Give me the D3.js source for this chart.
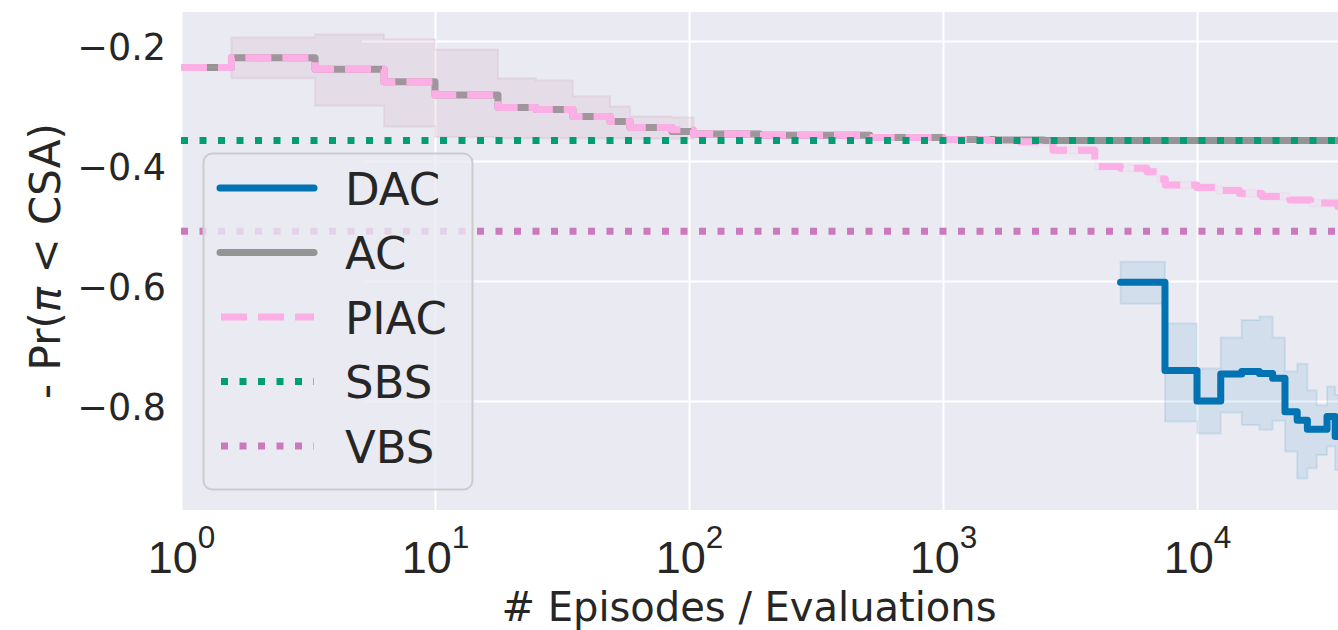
<!DOCTYPE html>
<html>
<head>
<meta charset="utf-8">
<script src="https://d3js.org/d3.v7.min.js"></script>
<style>
  body { margin: 0; background: #ffffff; }
  svg { display: block; font-family: 'DejaVu Sans', sans-serif; }
</style>
</head>
<body>
<div class="chart"></div>
<script>
// ---- data ----
var xTicks = [1, 10, 100, 1000, 10000];
var yTicks = [-0.8, -0.6, -0.4, -0.2];

// AC: step curve (steps-post) with its band
var acX    = [1, 1.58, 3.37, 6.3, 10, 17.7, 25, 34.9, 48.9, 58.6, 85.7, 104, 190, 515, 1000, 1600, 2500, 100000];
var acMean = [-0.244, -0.228, -0.247, -0.268, -0.290, -0.311, -0.314, -0.326, -0.334, -0.344, -0.351, -0.355, -0.357, -0.361, -0.364, -0.365, -0.366, -0.366];
var acHi   = [-0.244, -0.194, -0.189, -0.197, -0.214, -0.262, -0.266, -0.292, -0.309, -0.326, -0.327, -0.350, -0.352, -0.357, -0.360, -0.362, -0.363, -0.363];
var acLo   = [-0.244, -0.262, -0.308, -0.343, -0.360, -0.362, -0.362, -0.362, -0.362, -0.363, -0.363, -0.360, -0.362, -0.365, -0.368, -0.369, -0.369, -0.369];

// PIAC
var piacX    = [1, 1.58, 3.37, 6.3, 10, 17.7, 25, 34.9, 48.9, 58.6, 85.7, 104, 190, 515, 1000, 1500, 2000, 2710, 3960, 5000, 6350, 7000, 7500, 10000, 12000, 14700, 18000, 23200, 28000, 35900, 45000, 100000];
var piacMean = [-0.244, -0.228, -0.247, -0.268, -0.290, -0.311, -0.314, -0.326, -0.334, -0.344, -0.348, -0.355, -0.357, -0.361, -0.364, -0.366, -0.368, -0.382, -0.409, -0.412, -0.418, -0.430, -0.440, -0.444, -0.449, -0.454, -0.459, -0.465, -0.470, -0.476, -0.482, -0.482];
var piacHi   = [-0.244, -0.194, -0.189, -0.197, -0.214, -0.262, -0.266, -0.292, -0.309, -0.326, -0.327, -0.350, -0.352, -0.357, -0.360, -0.361, -0.362, -0.376, -0.403, -0.406, -0.412, -0.424, -0.434, -0.438, -0.443, -0.448, -0.453, -0.459, -0.464, -0.470, -0.476, -0.476];
var piacLo   = [-0.244, -0.262, -0.308, -0.343, -0.360, -0.362, -0.362, -0.362, -0.362, -0.363, -0.363, -0.360, -0.362, -0.365, -0.368, -0.371, -0.374, -0.388, -0.415, -0.418, -0.424, -0.436, -0.446, -0.450, -0.455, -0.460, -0.465, -0.471, -0.476, -0.482, -0.488, -0.488];

// DAC
var dacX    = [5000, 7480, 10000, 12400, 15000, 17600, 19850, 22200, 24800, 27200, 29600, 32500, 35000, 40000];
var dacMean = [-0.602, -0.749, -0.800, -0.755, -0.751, -0.754, -0.762, -0.818, -0.832, -0.847, -0.847, -0.826, -0.859, -0.859];
var dacHi   = [-0.568, -0.671, -0.746, -0.694, -0.665, -0.659, -0.694, -0.751, -0.738, -0.782, -0.807, -0.776, -0.790, -0.790];
var dacLo   = [-0.638, -0.834, -0.854, -0.819, -0.840, -0.848, -0.833, -0.884, -0.929, -0.912, -0.890, -0.876, -0.915, -0.915];

// constant baselines
var sbsValue = -0.366;
var vbsValue = -0.517;

var legendNames = ['DAC', 'AC', 'PIAC', 'SBS', 'VBS'];

// ---- layout ----
var width = 1338, height = 630;
var plotLeft = 181, plotTop = 12, plotBottom = 510;
var decade = 254;

var colors = {DAC: '#0173b2', AC: '#949494', PIAC: '#fbafe4', SBS: '#029e73', VBS: '#cc78bc'};
var lw = 7;

var svg = d3.select('.chart').append('svg')
  .attr('width', width)
  .attr('height', height);

svg.append('rect').attr('width', width).attr('height', height).attr('fill', '#ffffff');

var x = d3.scaleLog().domain([1, 1e5]).range([plotLeft, plotLeft + decade * 5]);
var y = d3.scaleLinear().domain([-0.2, -0.8]).range([41, 401]);

svg.append('clipPath').attr('id', 'plotclip')
  .append('rect')
    .attr('x', plotLeft).attr('y', plotTop)
    .attr('width', width - plotLeft).attr('height', plotBottom - plotTop);

svg.append('rect')
  .attr('x', plotLeft).attr('y', plotTop)
  .attr('width', width - plotLeft).attr('height', plotBottom - plotTop)
  .attr('fill', '#eaeaf2');

// grid via axes
var gx = svg.append('g')
  .attr('transform', 'translate(0,' + plotBottom + ')')
  .call(d3.axisBottom(x).tickValues(xTicks).tickSize(-(plotBottom - plotTop)).tickFormat(''));
gx.select('.domain').remove();
gx.selectAll('.tick line').attr('stroke', '#ffffff').attr('stroke-width', 2);
gx.selectAll('.tick text').remove();

var gy = svg.append('g')
  .attr('transform', 'translate(' + plotLeft + ',0)')
  .attr('clip-path', 'url(#plotclip)')
  .call(d3.axisLeft(y).tickValues(yTicks).tickSize(-(width - plotLeft)).tickFormat(''));
gy.select('.domain').remove();
gy.selectAll('.tick line').attr('stroke', '#ffffff').attr('stroke-width', 2);
gy.selectAll('.tick text').remove();

// tick labels
var xTickFont = 45, yTickFont = 36.5;
gx.selectAll('.tick').append('text')
  .attr('y', 63)
  .attr('text-anchor', 'middle')
  .attr('fill', '#262626')
  .style('font-size', xTickFont + 'px')
  .each(function(d) {
    var t = d3.select(this);
    t.append('tspan').text('10');
    t.append('tspan')
      .attr('dy', -25)
      .style('font-size', (xTickFont * 0.7) + 'px')
      .text(Math.round(Math.log10(d)));
  });

svg.append('g').selectAll('text')
  .data(yTicks)
  .enter()
  .append('text')
    .attr('x', 166)
    .attr('y', function(d) { return y(d) + 18.5; })
    .attr('text-anchor', 'end')
    .attr('fill', '#262626')
    .style('font-size', yTickFont + 'px')
    .text(function(d) { return '\u2212' + Math.abs(d).toFixed(1); });

// axis labels
var ylab = svg.append('text')
  .attr('transform', 'translate(60,' + ((plotTop + plotBottom) / 2) + ') rotate(-90)')
  .attr('text-anchor', 'middle')
  .attr('fill', '#262626')
  .style('font-size', '42px');
ylab.append('tspan').text('- Pr(');
ylab.append('tspan').style('font-style', 'italic').text('\u03c0');
ylab.append('tspan').text(' < CSA)');

svg.append('text')
  .attr('x', 749)
  .attr('y', 621)
  .attr('text-anchor', 'middle')
  .attr('fill', '#262626')
  .style('font-size', '40px')
  .text('# Episodes / Evaluations');

// ---- marks ----
var plot = svg.append('g').attr('clip-path', 'url(#plotclip)');

function zipSeries(xs, mean, lo, hi) {
  return xs.map(function(v, i) { return {x: v, m: mean[i], lo: lo[i], hi: hi[i]}; });
}

var band = d3.area()
  .curve(d3.curveStepAfter)
  .x(function(d) { return x(d.x); })
  .y0(function(d) { return y(d.lo); })
  .y1(function(d) { return y(d.hi); });

var meanLine = d3.line()
  .curve(d3.curveStepAfter)
  .x(function(d) { return x(d.x); })
  .y(function(d) { return y(d.m); });

var series = [
  {name: 'DAC', data: zipSeries(dacX, dacMean, dacLo, dacHi), dash: null},
  {name: 'AC', data: zipSeries(acX, acMean, acLo, acHi), dash: null},
  {name: 'PIAC', data: zipSeries(piacX, piacMean, piacLo, piacHi), dash: '26,11'}
];

series.forEach(function(s) {
  plot.append('path')
    .attr('d', band(s.data))
    .attr('fill', colors[s.name])
    .attr('fill-opacity', 0.1)
    .attr('stroke', colors[s.name])
    .attr('stroke-opacity', 0.1)
    .attr('stroke-width', 2);
  plot.append('path')
    .attr('d', meanLine(s.data))
    .attr('fill', 'none')
    .attr('stroke', colors[s.name])
    .attr('stroke-width', lw)
    .attr('stroke-linecap', s.dash ? 'butt' : 'round')
    .attr('stroke-linejoin', 'round')
    .attr('stroke-dasharray', s.dash);
});

[{name: 'SBS', v: sbsValue}, {name: 'VBS', v: vbsValue}].forEach(function(h) {
  plot.append('line')
    .attr('x1', plotLeft).attr('x2', width)
    .attr('y1', y(h.v)).attr('y2', y(h.v))
    .attr('stroke', colors[h.name])
    .attr('stroke-width', lw)
    .attr('stroke-dasharray', '7,11.5');
});

// ---- legend ----
var legend = svg.append('g');
legend.append('rect')
  .attr('x', 203.5).attr('y', 153.5)
  .attr('width', 269).attr('height', 336)
  .attr('rx', 9)
  .attr('fill', '#eaeaf2').attr('fill-opacity', 0.8)
  .attr('stroke', '#cccccc').attr('stroke-width', 2);

var legendDash = {DAC: null, AC: null, PIAC: '26,11', SBS: '7,11.5', VBS: '7,11.5'};
var rows = legend.selectAll('g.row')
  .data(legendNames)
  .enter()
  .append('g')
    .attr('class', 'row')
    .attr('transform', function(d, i) { return 'translate(0,' + (188 + i * 64.5) + ')'; });

rows.append('line')
  .attr('x1', function(d) { return legendDash[d] ? 221 : 220; })
  .attr('x2', 314)
  .attr('stroke', function(d) { return colors[d]; })
  .attr('stroke-width', lw)
  .attr('stroke-linecap', function(d) { return legendDash[d] ? 'butt' : 'round'; })
  .attr('stroke-dasharray', function(d) { return legendDash[d]; });

rows.append('text')
  .attr('x', 345)
  .attr('y', 16.5)
  .attr('fill', '#262626')
  .style('font-size', '45px')
  .text(function(d) { return d; });
</script>
</body>
</html>
